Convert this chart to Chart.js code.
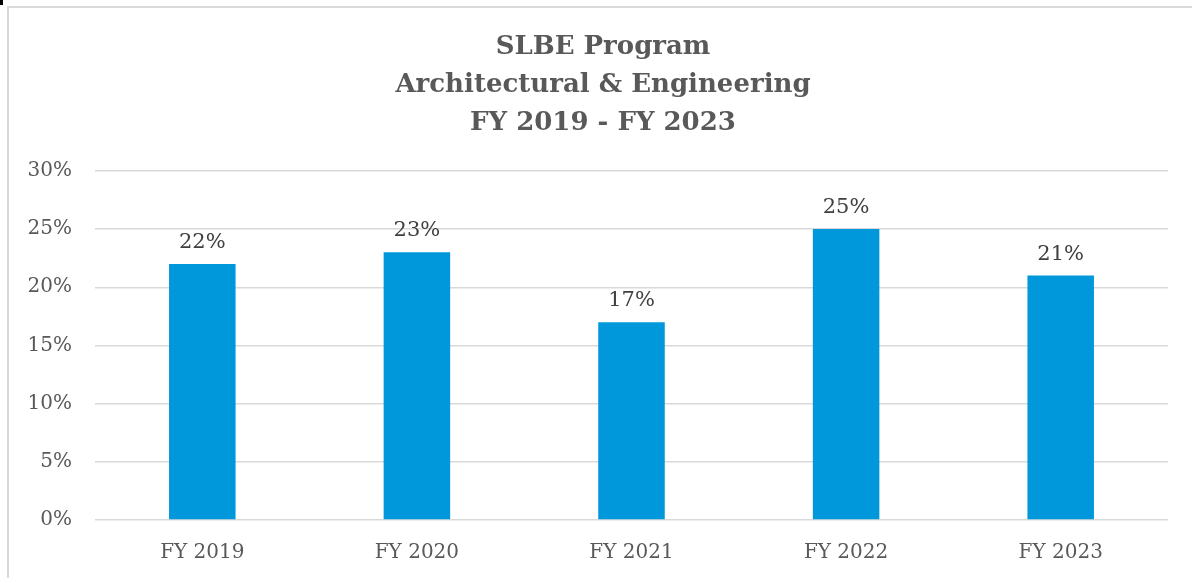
<!DOCTYPE html>
<html>
<head>
<meta charset="utf-8">
<script src="https://cdn.jsdelivr.net/npm/chart.js@4/dist/chart.umd.min.js"></script>
<style>
    html, body { margin: 0; padding: 0; background: #fff; overflow: hidden; }
    #wrap { position: relative; width: 1192px; height: 578px; }
    #frame {
        position: absolute; left: 7px; top: 6px; width: 1200px; height: 600px;
        border: 2px solid #d9d9d9; box-sizing: border-box;
    }
    #mark { position: absolute; left: 0; top: 0; width: 3px; height: 5px; background: #000; }
    canvas { position: absolute; left: 0; top: 0; }
</style>
</head>
<body>
<div id="wrap">
    <div id="frame"></div>
    <div id="mark"></div>
    <canvas id="slbeChart" width="1192" height="578"></canvas>
</div>
<script>
const years = ['FY 2019', 'FY 2020', 'FY 2021', 'FY 2022', 'FY 2023'];
const shares = [22, 23, 17, 25, 21];
const titleLines = ['SLBE Program', 'Architectural & Engineering', 'FY 2019 - FY 2023'];

const serif = "'DejaVu Serif', 'Liberation Serif', serif";

// percent labels above each bar
const barLabels = {
    id: 'barLabels',
    afterDatasetsDraw(chart) {
        const ctx = chart.ctx;
        const meta = chart.getDatasetMeta(0);
        ctx.save();
        ctx.font = '21px ' + serif;
        ctx.fillStyle = '#404040';
        ctx.textAlign = 'center';
        ctx.textBaseline = 'bottom';
        meta.data.forEach(function (bar, i) {
            ctx.fillText(shares[i] + '%', bar.x, bar.y - 11);
        });
        ctx.restore();
    }
};

// the original title sits a bit right of the canvas centre
const titleNudge = {
    id: 'titleNudge',
    afterLayout(chart) {
        const t = chart.titleBlock;
        if (t) {
            t.left += 14;
            t.right += 14;
        }
    }
};

const config = {
    type: 'bar',
    data: {
        labels: years,
        datasets: [{
            data: shares,
            backgroundColor: '#0098da',
            borderWidth: 0,
            barPercentage: 0.31,
            categoryPercentage: 1
        }]
    },
    options: {
        responsive: false,
        animation: false,
        layout: { padding: { left: 10, right: 24, top: 0, bottom: 0 } },
        plugins: {
            legend: { display: false },
            tooltip: { enabled: false },
            title: {
                display: true,
                text: titleLines,
                color: '#595959',
                font: { family: serif, size: 26, weight: 'bold', lineHeight: 1.46 },
                padding: { top: 28, bottom: 29 }
            }
        },
        scales: {
            x: {
                grid: { display: false },
                border: { display: false },
                ticks: {
                    color: '#595959',
                    font: { family: serif, size: 20 },
                    padding: 13
                },
                afterFit(scale) { scale.height = 58; }
            },
            y: {
                min: 0,
                max: 30,
                grid: { color: '#d9d9d9', lineWidth: 1.5, drawTicks: false },
                border: { display: false },
                ticks: {
                    stepSize: 5,
                    color: '#595959',
                    font: { family: serif, size: 20 },
                    padding: 23,
                    callback: function (v) { return v + '%'; }
                },
                afterFit(scale) { scale.width = 85; }
            }
        }
    },
    plugins: [barLabels, titleNudge]
};

const chart = new Chart(document.getElementById('slbeChart'), config);
</script>
</body>
</html>
